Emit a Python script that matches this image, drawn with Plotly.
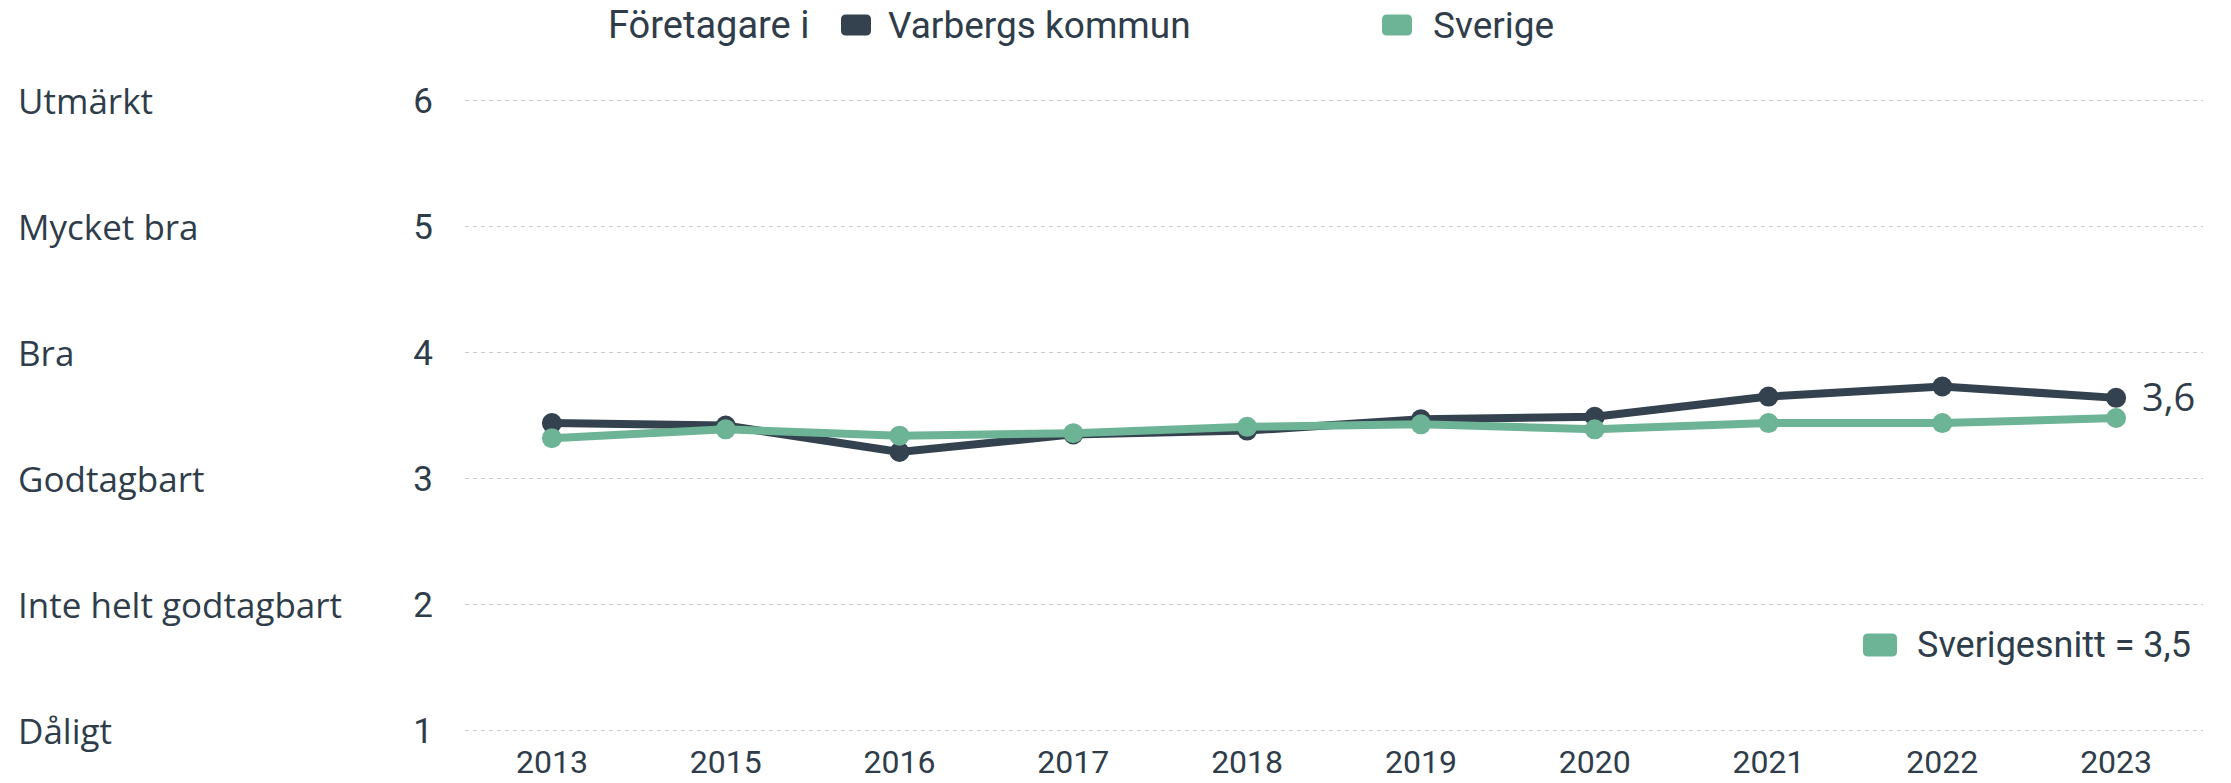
import plotly.graph_objects as go

# ---- data ----
years = ["2013", "2015", "2016", "2017", "2018", "2019", "2020", "2021", "2022", "2023"]
varberg = [3.44, 3.42, 3.21, 3.35, 3.38, 3.47, 3.49, 3.65, 3.73, 3.64]
sverige = [3.32, 3.39, 3.34, 3.36, 3.41, 3.43, 3.39, 3.44, 3.44, 3.48]
series_names = ["Varbergs kommun", "Sverige"]
legend_title = "Företagare i"
rating_values = [6, 5, 4, 3, 2, 1]
rating_labels = ["Utmärkt", "Mycket bra", "Bra", "Godtagbart", "Inte helt godtagbart", "Dåligt"]
sverigesnitt = 3.5

# ---- style ----
DARK = "#34424f"
GREEN = "#6db395"
TEXT = "#2f3d4b"
W, H = 2231, 783
ML, MR, MT, MB = 465, 28, 88, 40

fig = go.Figure()
fig.add_trace(go.Scatter(x=years, y=varberg, mode="lines+markers", name=series_names[0],
                         line=dict(color=DARK, width=8), marker=dict(color=DARK, size=20),
                         showlegend=False))
fig.add_trace(go.Scatter(x=years, y=sverige, mode="lines+markers", name=series_names[1],
                         line=dict(color=GREEN, width=8), marker=dict(color=GREEN, size=20),
                         showlegend=False))

plot_w = W - ML - MR
plot_h = H - MT - MB


def px_to_paper_x(px):
    return (px - ML) / plot_w


def px_to_paper_y(py):
    return (H - MB - py) / plot_h


def rounded_rect(w, h, r):
    x0, x1, y0, y1 = -w / 2, w / 2, -h / 2, h / 2
    return (f"M {x0 + r},{y0} L {x1 - r},{y0} Q {x1},{y0} {x1},{y0 + r} "
            f"L {x1},{y1 - r} Q {x1},{y1} {x1 - r},{y1} L {x0 + r},{y1} "
            f"Q {x0},{y1} {x0},{y1 - r} L {x0},{y0 + r} Q {x0},{y0} {x0 + r},{y0} Z")


shapes = []
annotations = []

# left rating labels
for v, lab in zip(rating_values, rating_labels):
    annotations.append(dict(x=px_to_paper_x(16), xref="paper", y=v, yref="y", text=lab,
                            showarrow=False, xanchor="left", yanchor="middle",
                            font=dict(family="Open Sans", size=35, color=TEXT)))

# top legend
ly = px_to_paper_y(25)
annotations.append(dict(x=px_to_paper_x(606), xref="paper", y=ly, yref="paper", text=legend_title,
                        showarrow=False, xanchor="left", yanchor="middle",
                        font=dict(family="Roboto", size=38, color=TEXT)))
for name, col, sx, tx in [(series_names[0], DARK, 856, 886), (series_names[1], GREEN, 1397, 1431)]:
    shapes.append(dict(type="path", xref="paper", yref="paper", xsizemode="pixel", ysizemode="pixel",
                       xanchor=px_to_paper_x(sx), yanchor=ly, path=rounded_rect(30, 21, 5),
                       fillcolor=col, line=dict(width=0)))
    annotations.append(dict(x=px_to_paper_x(tx), xref="paper", y=ly, yref="paper", text=name,
                            showarrow=False, xanchor="left", yanchor="middle",
                            font=dict(family="Roboto", size=37, color=TEXT)))

# bottom-right average legend
by = px_to_paper_y(645)
shapes.append(dict(type="path", xref="paper", yref="paper", xsizemode="pixel", ysizemode="pixel",
                   xanchor=px_to_paper_x(1880), yanchor=by, path=rounded_rect(34, 23, 5),
                   fillcolor=GREEN, line=dict(width=0)))
annotations.append(dict(x=px_to_paper_x(1915), xref="paper", y=by, yref="paper",
                        text=f"Sverigesnitt = {sverigesnitt:.1f}".replace(".", ","),
                        showarrow=False, xanchor="left", yanchor="middle",
                        font=dict(family="Roboto", size=36, color=TEXT)))

# end label for Varberg
annotations.append(dict(x=len(years) - 1, y=varberg[-1], xref="x", yref="y",
                        text=f"{varberg[-1]:.1f}".replace(".", ","),
                        showarrow=False, xanchor="left", yanchor="middle", xshift=24, yshift=2,
                        font=dict(family="Open Sans", size=38, color=TEXT)))

fig.update_layout(
    width=W, height=H,
    margin=dict(l=ML, r=MR, t=MT, b=MB, autoexpand=False),
    paper_bgcolor="white", plot_bgcolor="white",
    shapes=shapes, annotations=annotations,
    showlegend=False,
)
fig.update_xaxes(type="category", range=[-0.5, len(years) - 0.5], showgrid=False, showline=False,
                 zeroline=False, ticks="outside", ticklen=6, tickcolor="rgba(0,0,0,0)",
                 automargin=False, anchor="free", position=px_to_paper_y(728),
                 tickfont=dict(family="Roboto", size=32, color=TEXT))
fig.update_yaxes(range=[0.9, 6.1], tickvals=rating_values, ticktext=[str(v) for v in rating_values],
                 showgrid=True, gridcolor="#cccccc", gridwidth=1, griddash="4px,4px",
                 zeroline=False, showline=False, ticks="outside", ticklen=24,
                 tickcolor="rgba(0,0,0,0)", automargin=False,
                 tickfont=dict(family="Roboto", size=35, color=TEXT))

fig.write_html("out.html", config={"displayModeBar": False},
               post_script="document.body.style.margin='0';")
